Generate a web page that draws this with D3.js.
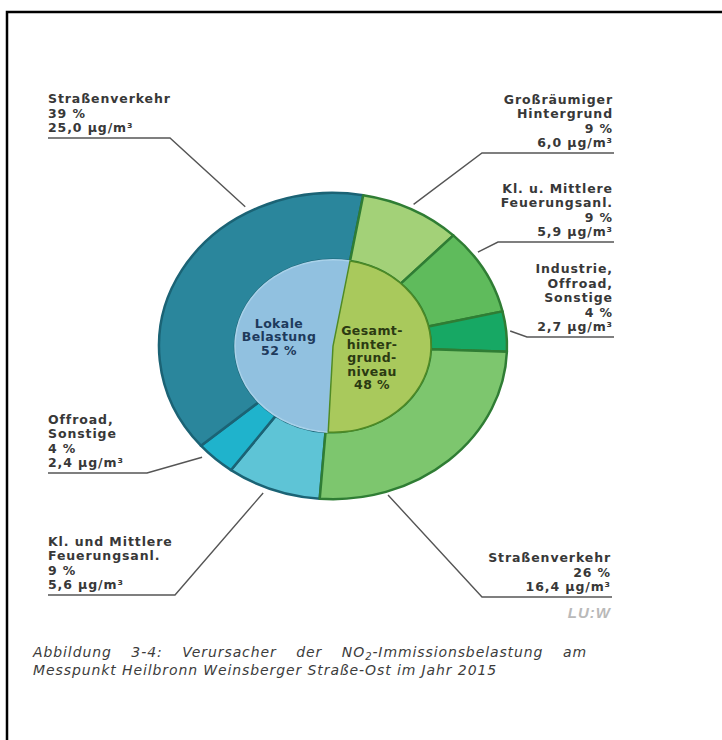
<!DOCTYPE html>
<html>
<head>
<meta charset="utf-8">
<script src="https://cdn.jsdelivr.net/npm/d3@7"></script>
<style>
  html, body { margin: 0; padding: 0; background: #fff; }
  svg { display: block; }
  .lbl { font-family: "DejaVu Sans", sans-serif; font-weight: bold; font-size: 12.5px; fill: #383838; letter-spacing: 0.9px; }
  .inner { font-family: "DejaVu Sans", sans-serif; font-weight: bold; font-size: 12.5px; letter-spacing: 0.4px; }
  .cap { font-family: "DejaVu Sans", sans-serif; font-style: italic; font-size: 14px; fill: #3c3c3c; letter-spacing: 0.9px; }
</style>
</head>
<body>
<svg id="chart" width="722" height="740"></svg>
<script>
// outer ring, clockwise from the top
const outerNames = [
  ["Großräumiger", "Hintergrund"],
  ["Kl. u. Mittlere", "Feuerungsanl."],
  ["Industrie,", "Offroad,", "Sonstige"],
  ["Straßenverkehr"],
  ["Kl. und Mittlere", "Feuerungsanl."],
  ["Offroad,", "Sonstige"],
  ["Straßenverkehr"]
];
const outerGroup = ["bg", "bg", "bg", "bg", "local", "local", "local"];
const outerShares = [9, 9, 4, 26, 9, 4, 39];
const outerConc = [6.0, 5.9, 2.7, 16.4, 5.6, 2.4, 25.0];

// inner circle
const innerNames = [["Gesamt-", "hinter-", "grund-", "niveau"], ["Lokale", "Belastung"]];
const innerShares = [48, 52];

const captionLines = [
  ["Abbildung 3-4: Verursacher der NO", "2", "-Immissionsbelastung am"],
  ["Messpunkt Heilbronn Weinsberger Straße-Ost im Jahr 2015"]
];

// styling / layout
const outerColors = ["#a3d178", "#5fbb5c", "#17a864", "#7dc66e", "#5ec4d6", "#1fb3cc", "#2a869c"];
const innerColors = ["#a9c95c", "#91c1e0"];
const groupStroke = {bg: "#2f7d34", local: "#1b6375"};
const innerStroke = ["#4f8a25", "#a9d2ea"];
const innerText = ["#2b3a12", "#1e3a5c"];

const cx = 333, cy = 346, ky = 0.88;
const rOuter = 174, rInner = 98;
const start = 10 * Math.PI / 180;

// label anchors: text x, underline y, elbow x, angle (deg) and radius where the leader meets the ring
const labelLayout = [
  {side: "r", x: 613, y: 153, elbow: 482, ang: 26.6, r: 180},
  {side: "r", x: 613, y: 242, elbow: 498, ang: 53.6, r: 180},
  {side: "r", x: 613, y: 337, elbow: 527, ang: 84.5, r: 178},
  {side: "r", x: 611, y: 597, elbow: 482, ang: 162, r: 178},
  {side: "l", x: 48, y: 595, elbow: 175, ang: 202.7, r: 181},
  {side: "l", x: 48, y: 473, elbow: 147, ang: 226, r: 182},
  {side: "l", x: 48, y: 138, elbow: 170, ang: 331, r: 181}
];
const innerLayout = [{x: 372, y: 335}, {x: 279, y: 327.5}];
const lineH = 14.5;

const svg = d3.select("#chart");
const fmt = v => d3.format(".1f")(v).replace(".", ",");

// frame (only top and left edges are visible)
svg.append("path")
  .attr("d", "M7,745V12H730")
  .attr("fill", "none")
  .attr("stroke", "#000")
  .attr("stroke-width", 2.5);

const pieG = svg.append("g").attr("transform", `translate(${cx},${cy}) scale(1,${ky})`);

const pieOuter = d3.pie().sort(null).value(d => d)
  .startAngle(start).endAngle(start + 2 * Math.PI);
const arcOuter = d3.arc().innerRadius(rInner).outerRadius(rOuter);
const arcInner = d3.arc().innerRadius(0).outerRadius(rInner);

const outerArcs = pieOuter(outerConc);
const order = d3.range(outerArcs.length).sort((a, b) => (outerGroup[a] === "bg") - (outerGroup[b] === "bg"));

pieG.selectAll(".outer")
  .data(order.map(i => outerArcs[i]))
  .enter().append("path")
  .attr("class", "outer")
  .attr("d", arcOuter)
  .attr("fill", d => outerColors[d.index])
  .attr("stroke", d => groupStroke[outerGroup[d.index]])
  .attr("stroke-width", 2.5)
  .attr("stroke-linejoin", "round")
  .attr("vector-effect", "non-scaling-stroke");

const innerArcs = pieOuter(innerShares);
pieG.selectAll(".innerSlice")
  .data(innerArcs.slice().reverse())
  .enter().append("path")
  .attr("class", "innerSlice")
  .attr("d", arcInner)
  .attr("fill", d => innerColors[d.index])
  .attr("stroke", d => innerStroke[d.index])
  .attr("stroke-width", 1.5)
  .attr("vector-effect", "non-scaling-stroke");

// inner labels
innerNames.forEach((lines, i) => {
  const all = lines.concat([innerShares[i] + " %"]);
  const t = svg.append("text").attr("class", "inner")
    .attr("text-anchor", "middle")
    .attr("fill", innerText[i]);
  all.forEach((s, j) => {
    t.append("tspan").attr("x", innerLayout[i].x).attr("y", innerLayout[i].y + j * 13.5).text(s);
  });
});

// outer labels with leader lines
outerNames.forEach((lines, i) => {
  const L = labelLayout[i];
  const all = lines.concat([outerShares[i] + " %", fmt(outerConc[i]) + " µg/m³"]);
  const n = all.length;
  const t = svg.append("text").attr("class", "lbl")
    .attr("text-anchor", L.side === "r" ? "end" : "start");
  all.forEach((s, j) => {
    t.append("tspan")
      .attr("x", L.x)
      .attr("y", L.y - 6 - (n - 1 - j) * lineH)
      .text(s);
  });
  const a = L.ang * Math.PI / 180;
  const px = cx + L.r * Math.sin(a);
  const py = cy - L.r * Math.cos(a) * ky;
  const farX = L.side === "r" ? L.x + 1 : L.x;
  svg.append("path")
    .attr("d", d3.line()([[farX, L.y], [L.elbow, L.y], [px, py]]))
    .attr("fill", "none")
    .attr("stroke", "#555")
    .attr("stroke-width", 1.4);
});

// logo
svg.append("text")
  .attr("x", 611).attr("y", 618)
  .attr("text-anchor", "end")
  .style("font-family", "Liberation Sans, sans-serif")
  .style("font-weight", "bold")
  .style("font-style", "italic")
  .style("font-size", "15px")
  .style("letter-spacing", "1px")
  .attr("fill", "#b9b9b9")
  .text("LU:W");

// caption, first line justified
const cap1 = svg.append("text").attr("class", "cap").attr("x", 33).attr("y", 657);
cap1.append("tspan").text(captionLines[0][0]);
cap1.append("tspan").attr("dy", 3).style("font-size", "10px").text(captionLines[0][1]);
cap1.append("tspan").attr("dy", -3).text(captionLines[0][2]);
const natural = cap1.node().getComputedTextLength();
const spaces = captionLines[0].join("").split(" ").length - 1;
cap1.style("word-spacing", Math.max(0, (587 - 33 - natural) / spaces) + "px");

svg.append("text").attr("class", "cap").attr("x", 33).attr("y", 675)
  .text(captionLines[1][0]);
</script>
</body>
</html>
